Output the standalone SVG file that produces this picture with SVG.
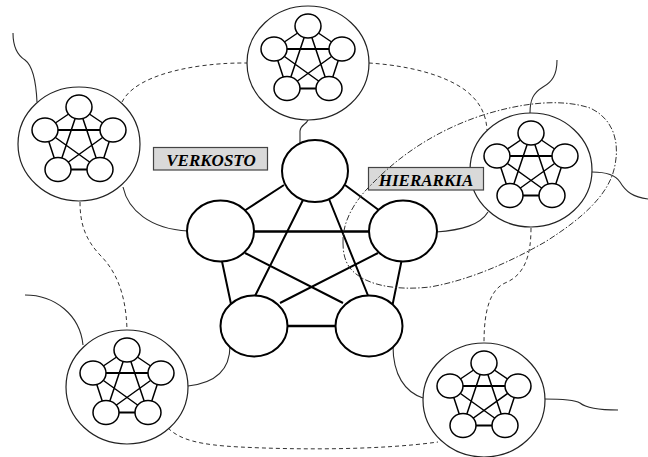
<svg xmlns="http://www.w3.org/2000/svg" xmlns:xlink="http://www.w3.org/1999/xlink" width="648" height="457" viewBox="0 0 648 457">
  <style>
    .bg { fill: #ffffff; }
    .wire { fill: none; stroke: #2a2a2a; stroke-width: 1.1; }
    .dash { fill: none; stroke: #333333; stroke-width: 1; stroke-dasharray: 4 3; }
    .hier { fill: none; stroke: #333333; stroke-width: 1; stroke-dasharray: 6 2 1.5 2; }
    .outer { fill: #ffffff; stroke: #222222; stroke-width: 1.2; }
    .sl { fill: none; stroke: #000000; stroke-width: 1.5; }
    .slh { fill: none; stroke: #000000; stroke-width: 2.2; }
    .sn { fill: #ffffff; stroke: #000000; stroke-width: 1.5; }
    .ml { fill: none; stroke: #000000; stroke-width: 2; }
    .mlh { fill: none; stroke: #000000; stroke-width: 2.6; }
    .mn { fill: #ffffff; stroke: #000000; stroke-width: 2; }
    .tag { fill: #d9d9d9; stroke: #444444; stroke-width: 1.2; }
    .tagtext { font-family: "Liberation Serif", "Times New Roman", serif; font-weight: bold; font-style: italic; font-size: 17px; fill: #000000; }
  </style>
  <defs>
    <!-- a small five-node cluster inside its enclosing circle -->
    <g id="cluster">
      <ellipse class="outer" cx="0" cy="0" rx="61" ry="57"/>
      <path class="sl" d="M0,-37L-34,-14 M0,-37L34,-14 M0,-37L-21,25.5 M0,-37L21,25.5 M-34,-14L-21,25.5 M34,-14L21,25.5 M-34,-14L21,25.5 M34,-14L-21,25.5"/>
      <path class="slh" d="M-34,-14H34 M-21,25.5H21"/>
      <ellipse class="sn" cx="0" cy="-37" rx="13" ry="12"/>
      <ellipse class="sn" cx="-34" cy="-14" rx="13" ry="12"/>
      <ellipse class="sn" cx="34" cy="-14" rx="13" ry="12"/>
      <ellipse class="sn" cx="-21" cy="25.5" rx="13" ry="12"/>
      <ellipse class="sn" cx="21" cy="25.5" rx="13" ry="12"/>
    </g>
  </defs>

  <rect class="bg" x="0" y="0" width="648" height="457"/>

  <!-- connectors between clusters, the core network and the outside -->
  <g id="connectors">
    <path class="wire" d="M13,33 C13,46 17,55 25,60 C33,66 36,80 37,102"/>
    <path class="wire" d="M123,187 C128,210 150,229 188,231"/>
    <path class="wire" d="M308,120 C306,125 301,124 300,131 L300,145"/>
    <path class="wire" d="M557,60 C557,75 552,82 543,87 C533,93 530,100 530,113"/>
    <path class="wire" d="M592,172 C605,172 615,174 620,182 C626,192 633,197 648,199"/>
    <path class="wire" d="M488,212 C480,225 462,230 436,232"/>
    <path class="wire" d="M25,295 C55,295 80,315 83,345"/>
    <path class="wire" d="M188,386 C215,383 230,370 230,346"/>
    <path class="wire" d="M423,398 C405,392 393,375 393,346"/>
    <path class="wire" d="M544,399 C560,399 575,400 580,403 C586,408 600,410 618,410"/>

    <path class="dash" d="M122,102 C132,82 165,71 200,66 C222,63 236,63 247,63"/>
    <path class="dash" d="M369,63 C400,65 440,72 465,90 C478,100 486,112 487,130"/>
    <path class="dash" d="M80,202 C80,225 86,240 100,255 C115,270 126,292 127,330"/>
    <path class="dash" d="M168,428 C180,440 200,445 240,447 C300,450 380,450 438,442"/>
    <path class="dash" d="M531,228 C531,255 525,275 505,283 C490,290 484,310 484,343"/>

    <!-- core network edges -->
    <path class="ml" d="M284,185 L244,211 M345,185 L380,211 M303,200 L254,298 M329,199 L369,298 M245,253 L343,303 M378,253 L280,303 M221.7,260 L231,304 M401.7,260 L392.7,304"/>
    <path class="mlh" d="M252,231.5 H371 M286,326 H337"/>
  </g>

  <!-- core network -->
  <g id="core">
    <ellipse id="core-top" class="mn" cx="315" cy="171" rx="33" ry="31"/>
    <ellipse id="core-left" class="mn" cx="220.5" cy="231" rx="33.5" ry="30.5"/>
    <ellipse id="core-right" class="mn" cx="403" cy="231" rx="34" ry="30.5"/>
    <ellipse id="core-bottom-left" class="mn" cx="254" cy="326" rx="33.5" ry="30.5"/>
    <ellipse id="core-bottom-right" class="mn" cx="369" cy="326" rx="33.5" ry="30.5"/>
  </g>

  <!-- surrounding clusters -->
  <g id="cluster-left"><use xlink:href="#cluster" href="#cluster" transform="translate(79,144)"/></g>
  <g id="cluster-top"><use xlink:href="#cluster" href="#cluster" transform="translate(308,63)"/></g>
  <g id="cluster-right"><use xlink:href="#cluster" href="#cluster" transform="translate(531,170)"/></g>
  <g id="cluster-bottom-left"><use xlink:href="#cluster" href="#cluster" transform="translate(127,387)"/></g>
  <g id="cluster-bottom-right"><use xlink:href="#cluster" href="#cluster" transform="translate(484,400)"/></g>

  <!-- labels -->
  <g id="label-verkosto">
    <rect class="tag" x="153.5" y="147.5" width="114" height="22.5"/>
    <text class="tagtext" x="211" y="166" text-anchor="middle">VERKOSTO</text>
  </g>
  <g id="label-hierarkia">
    <rect class="tag" x="368.5" y="167.5" width="115" height="22.5"/>
    <text class="tagtext" x="426" y="186" text-anchor="middle">HIERARKIA</text>
  </g>

  <!-- boundary of the hierarchy region -->
  <g id="hierarchy-outline">
    <path class="hier" d="M343,243 C342,222 355,200 372,184 C395,160 430,133 480,116 C520,103 560,98 590,108 C612,118 620,140 615,165 C610,195 580,220 545,242 C510,262 470,280 430,287 C395,291 360,285 348,265 C344,258 343,250 343,243 Z"/>
  </g>
</svg>
